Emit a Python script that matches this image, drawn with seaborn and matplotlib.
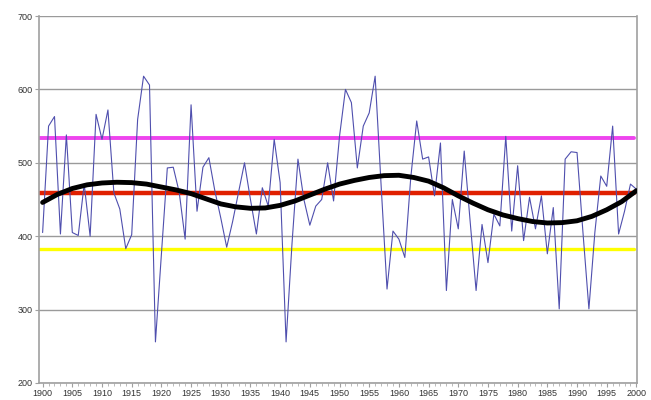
import matplotlib
matplotlib.use("Agg")
import matplotlib.pyplot as plt
from matplotlib.ticker import MultipleLocator
import seaborn as sns
import pandas as pd

# valori annuali
anni = list(range(1900, 2001))
valori = [
    405, 550, 563, 403, 538, 405, 401, 471, 400, 566,   # 1900-1909
    532, 572, 459, 437, 383, 402, 559, 618, 606, 256,   # 1910-1919
    375, 493, 494, 460, 396, 579, 434, 494, 507, 462,   # 1920-1929
    425, 385, 420, 460, 500, 450, 403, 466, 441, 532,   # 1930-1939
    473, 256, 390, 505, 450, 415, 441, 450, 500, 448,   # 1940-1949
    536, 600, 582, 493, 550, 568, 618, 470, 328, 407,   # 1950-1959
    396, 371, 480, 557, 505, 508, 455, 527, 326, 450,   # 1960-1969
    410, 516, 420, 326, 416, 364, 430, 414, 536, 407,   # 1970-1979
    496, 394, 453, 410, 455, 376, 439, 301, 505, 515,   # 1980-1989
    514, 405, 301, 405, 482, 468, 550, 403, 434, 471,   # 1990-1999
    464,                                               # 2000
]

# linea di tendenza (ogni 2,5 anni)
anni_tendenza = [1900 + 2.5 * i for i in range(41)]
valori_tendenza = [
    446, 457, 465, 470, 472.5, 473.5, 473, 471, 467, 463,
    458, 451, 444, 440, 438, 438.5, 442, 448, 456, 464,
    471, 476, 480, 482.5, 483, 480, 475, 466, 455, 445,
    436, 429, 424, 420, 418, 418.5, 421, 427, 436, 447,
    462,
]

# linee di riferimento orizzontali
livello_alto = 534
livello_medio = 459
livello_basso = 382

df = pd.DataFrame({"anno": anni, "valore": valori})
df_tend = pd.DataFrame({"anno": anni_tendenza, "tendenza": valori_tendenza})

sns.set_style("white")
plt.rcParams["font.family"] = ["Liberation Sans", "DejaVu Sans"]

fig = plt.figure(figsize=(6.51, 4.0), dpi=100)
ax = fig.add_axes([0.06, 0.0425, 0.9185, 0.9175])

ax.grid(axis="y", color="#9a9a9a", linewidth=1.0)
ax.set_axisbelow(True)

ax.plot([1899.4, 1999.6], [livello_alto] * 2, color="#ee44ee", linewidth=2.8, zorder=2)
ax.plot([1899.4, 1999.6], [livello_medio] * 2, color="#e02000", linewidth=3.2, zorder=2)
ax.plot([1899.4, 1999.6], [livello_basso] * 2, color="#ffff00", linewidth=2.4, zorder=2)

sns.lineplot(data=df, x="anno", y="valore", color="#4f4fae", linewidth=0.8, ax=ax, zorder=3)
sns.lineplot(data=df_tend, x="anno", y="tendenza", color="black", linewidth=3.5,
             solid_joinstyle="round", solid_capstyle="round", ax=ax, zorder=4)

ax.set_xlim(1899.4, 2000.1)
ax.set_ylim(200, 700)
ax.set_yticks(range(200, 701, 100))
ax.set_xticks(range(1900, 2001, 5))
ax.xaxis.set_minor_locator(MultipleLocator(1))
ax.set_xlabel("")
ax.set_ylabel("")

for lato in ["left", "bottom", "right"]:
    ax.spines[lato].set_color("#a0a0a0")
    ax.spines[lato].set_linewidth(1.2)
ax.spines["top"].set_visible(False)

ax.tick_params(axis="both", labelsize=6.5, colors="#333333", length=3, width=0.8,
               direction="out", left=True, bottom=True, pad=1.5)
ax.tick_params(axis="both", color="#a0a0a0")
ax.tick_params(axis="x", which="minor", length=2, color="#b0b0b0", bottom=True)

plt.savefig("out.png", dpi=100)
